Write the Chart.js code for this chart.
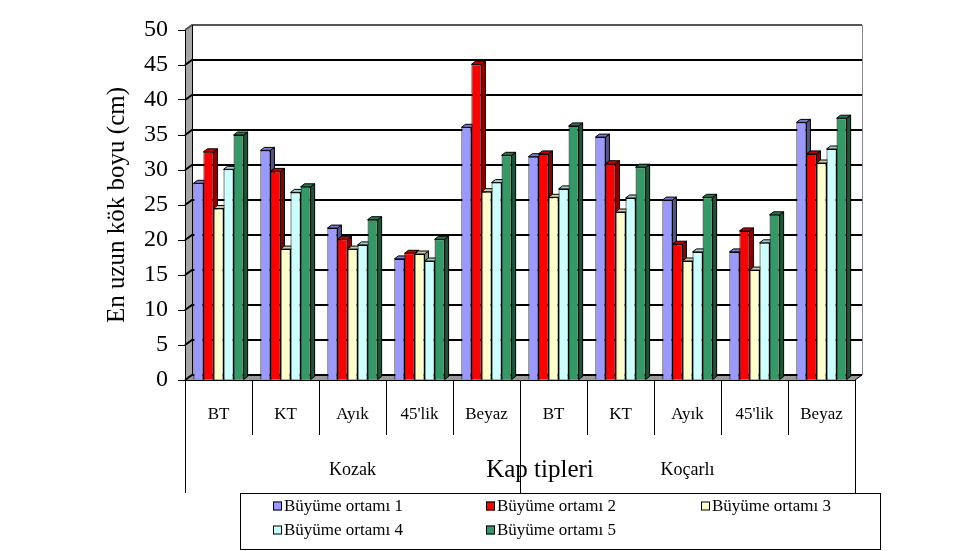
<!DOCTYPE html>
<html>
<head>
<meta charset="utf-8">
<title>En uzun kök boyu</title>
<script src="https://cdn.jsdelivr.net/npm/chart.js@4.4.0/dist/chart.umd.min.js"></script>
<style>
  html, body { margin: 0; padding: 0; background: #fff; }
</style>
</head>
<body>
<canvas id="chart" width="978" height="551"></canvas>
<script>
// categories
const kapTipleri = ['BT', 'KT', 'Ayık', "45'lik", 'Beyaz', 'BT', 'KT', 'Ayık', "45'lik", 'Beyaz'];
const yerler = ['Kozak', 'Koçarlı'];
const seriAdlari = ['Büyüme ortamı 1', 'Büyüme ortamı 2', 'Büyüme ortamı 3', 'Büyüme ortamı 4', 'Büyüme ortamı 5'];

// values (cm)
const ortam1 = [28.1, 32.8, 21.7, 17.3, 36.1, 31.9, 34.7, 25.7, 18.3, 36.8];
const ortam2 = [32.6, 29.8, 20.1, 18.1, 45.1, 32.3, 30.9, 19.4, 21.3, 32.3];
const ortam3 = [24.5, 18.7, 18.7, 18.0, 26.9, 26.1, 24.0, 17.0, 15.7, 31.0];
const ortam4 = [30.1, 26.8, 19.3, 17.0, 28.2, 27.3, 26.0, 18.3, 19.6, 33.0];
const ortam5 = [35.0, 27.6, 22.9, 20.1, 32.1, 36.3, 30.4, 26.1, 23.6, 37.4];

const yMin = 0, yMax = 50, yStep = 5;

const renkler = ['#9999ff', '#ff0000', '#ffffcc', '#ccffff', '#339966'];
const serif = "'Liberation Serif', 'Times New Roman', serif";

function shade(hex, f) {
    const n = parseInt(hex.slice(1), 16);
    const r = Math.round(((n >> 16) & 255) * f);
    const g = Math.round(((n >> 8) & 255) * f);
    const b = Math.round((n & 255) * f);
    return `rgb(${r},${g},${b})`;
}

// walls, floor, back grid and bar depth faces
const depth3d = {
    id: 'depth3d',
    beforeDatasetsDraw(chart) {
        const {ctx, chartArea: a, scales: {y}} = chart;
        const dx = 7, dy = 5;
        ctx.save();

        // left wall
        ctx.fillStyle = '#a6a6a6';
        ctx.beginPath();
        ctx.moveTo(a.left, a.bottom);
        ctx.lineTo(a.left, a.top);
        ctx.lineTo(a.left + dx, a.top - dy);
        ctx.lineTo(a.left + dx, a.bottom - dy);
        ctx.closePath();
        ctx.fill();

        // floor
        ctx.fillStyle = '#999999';
        ctx.beginPath();
        ctx.moveTo(a.left, a.bottom);
        ctx.lineTo(a.right, a.bottom);
        ctx.lineTo(a.right + dx, a.bottom - dy);
        ctx.lineTo(a.left + dx, a.bottom - dy);
        ctx.closePath();
        ctx.fill();

        // grid lines on the back wall
        y.ticks.forEach(t => {
            const py = y.getPixelForValue(t.value);
            ctx.strokeStyle = t.value === yMax ? '#555' : '#000';
            ctx.lineWidth = 2;
            ctx.beginPath();
            ctx.moveTo(a.left, py);
            ctx.lineTo(a.left + dx, py - dy);
            ctx.lineTo(a.right + dx, py - dy);
            ctx.stroke();
        });

        // wall edges
        ctx.lineWidth = 1;
        ctx.strokeStyle = '#000';
        ctx.beginPath();
        ctx.moveTo(a.left + 0.5, a.bottom);
        ctx.lineTo(a.left + 0.5, a.top);
        ctx.moveTo(a.left + dx + 0.5, a.top - dy);
        ctx.lineTo(a.left + dx + 0.5, a.bottom - dy);
        ctx.moveTo(a.right, a.bottom);
        ctx.lineTo(a.right + dx, a.bottom - dy);
        ctx.stroke();
        ctx.strokeStyle = '#888';
        ctx.beginPath();
        ctx.moveTo(a.right + dx + 0.5, a.top - dy);
        ctx.lineTo(a.right + dx + 0.5, a.bottom - dy);
        ctx.stroke();

        // bar sides and tops
        const bx = 4, by = 3;
        const metas = chart.data.datasets.map((d, i) => chart.getDatasetMeta(i));
        const n = chart.data.labels.length;
        for (let j = 0; j < n; j++) {
            metas.forEach((meta, i) => {
                const el = meta.data[j];
                if (!el) return;
                const {x, y: top, base, width} = el.getProps(['x', 'y', 'base', 'width'], true);
                const l = x - width / 2, r = x + width / 2;
                const c = renkler[i];
                ctx.strokeStyle = '#000';
                ctx.lineWidth = 1;
                // side
                ctx.fillStyle = shade(c, 0.55);
                ctx.beginPath();
                ctx.moveTo(r, top);
                ctx.lineTo(r + bx, top - by);
                ctx.lineTo(r + bx, base - by);
                ctx.lineTo(r, base);
                ctx.closePath();
                ctx.fill();
                ctx.stroke();
                // top
                ctx.fillStyle = shade(c, 0.8);
                ctx.beginPath();
                ctx.moveTo(l, top);
                ctx.lineTo(l + bx, top - by);
                ctx.lineTo(r + bx, top - by);
                ctx.lineTo(r, top);
                ctx.closePath();
                ctx.fill();
                ctx.stroke();
            });
        }
        ctx.restore();
    }
};

// axis title under the groups and boxed legend
const extras = {
    id: 'extras',
    afterDraw(chart) {
        const {ctx} = chart;
        ctx.save();
        ctx.fillStyle = '#000';
        ctx.textAlign = 'center';
        ctx.textBaseline = 'middle';
        ctx.font = `25px ${serif}`;
        ctx.fillText('Kap tipleri', 540, 470);

        // legend box
        const box = {left: 240, top: 493, width: 640, height: 56};
        ctx.strokeStyle = '#000';
        ctx.lineWidth = 1;
        ctx.strokeRect(box.left + 0.5, box.top + 0.5, box.width, box.height);

        const cols = [273, 486, 701];
        const rows = [506, 530];
        ctx.font = `17px ${serif}`;
        ctx.textAlign = 'left';
        chart.data.datasets.forEach((ds, i) => {
            const x = cols[i % 3];
            const yy = rows[Math.floor(i / 3)];
            ctx.fillStyle = ds.backgroundColor;
            ctx.fillRect(x, yy - 4.5, 9, 9);
            ctx.strokeRect(x + 0.5, yy - 4, 8, 8);
            ctx.fillStyle = '#000';
            ctx.fillText(ds.label, x + 11, yy + 1);
        });
        ctx.restore();
    }
};

const ctx = document.getElementById('chart').getContext('2d');
new Chart(ctx, {
    type: 'bar',
    data: {
        labels: kapTipleri,
        datasets: [ortam1, ortam2, ortam3, ortam4, ortam5].map((vals, i) => ({
            label: seriAdlari[i],
            data: vals,
            backgroundColor: renkler[i],
            borderColor: '#000',
            borderWidth: 1,
            barPercentage: 1.0,
            categoryPercentage: 0.75
        }))
    },
    options: {
        responsive: false,
        animation: false,
        layout: { padding: { left: 100, right: 123, top: 30, bottom: 58 } },
        plugins: {
            legend: { display: false },
            tooltip: { enabled: false }
        },
        scales: {
            x: {
                offset: true,
                grid: { offset: true, drawOnChartArea: false, tickLength: 55, color: '#000', lineWidth: 1 },
                border: { display: true, color: '#000', width: 1 },
                ticks: { color: '#000', font: { family: serif, size: 17 }, padding: -31, maxRotation: 0, autoSkip: false },
                afterFit: s => { s.height = 55; }
            },
            x2: {
                type: 'category',
                labels: yerler,
                position: 'bottom',
                offset: true,
                grid: { offset: true, drawOnChartArea: false, tickLength: 58, color: '#000', lineWidth: 1 },
                border: { display: false },
                ticks: { color: '#000', font: { family: serif, size: 18 }, padding: -34, maxRotation: 0 },
                afterFit: s => { s.height = 58; }
            },
            y: {
                min: yMin,
                max: yMax,
                ticks: { stepSize: yStep, color: '#000', font: { family: serif, size: 24 }, padding: 10 },
                grid: { drawOnChartArea: false, tickLength: 7, color: '#000' },
                border: { display: true, color: '#000' },
                title: {
                    display: true,
                    text: 'En uzun kök boyu (cm)',
                    color: '#000',
                    font: { family: serif, size: 25 },
                    padding: { top: 2, bottom: 0 }
                },
                afterFit: s => { s.width = 85; }
            }
        }
    },
    plugins: [depth3d, extras]
});
</script>
</body>
</html>
